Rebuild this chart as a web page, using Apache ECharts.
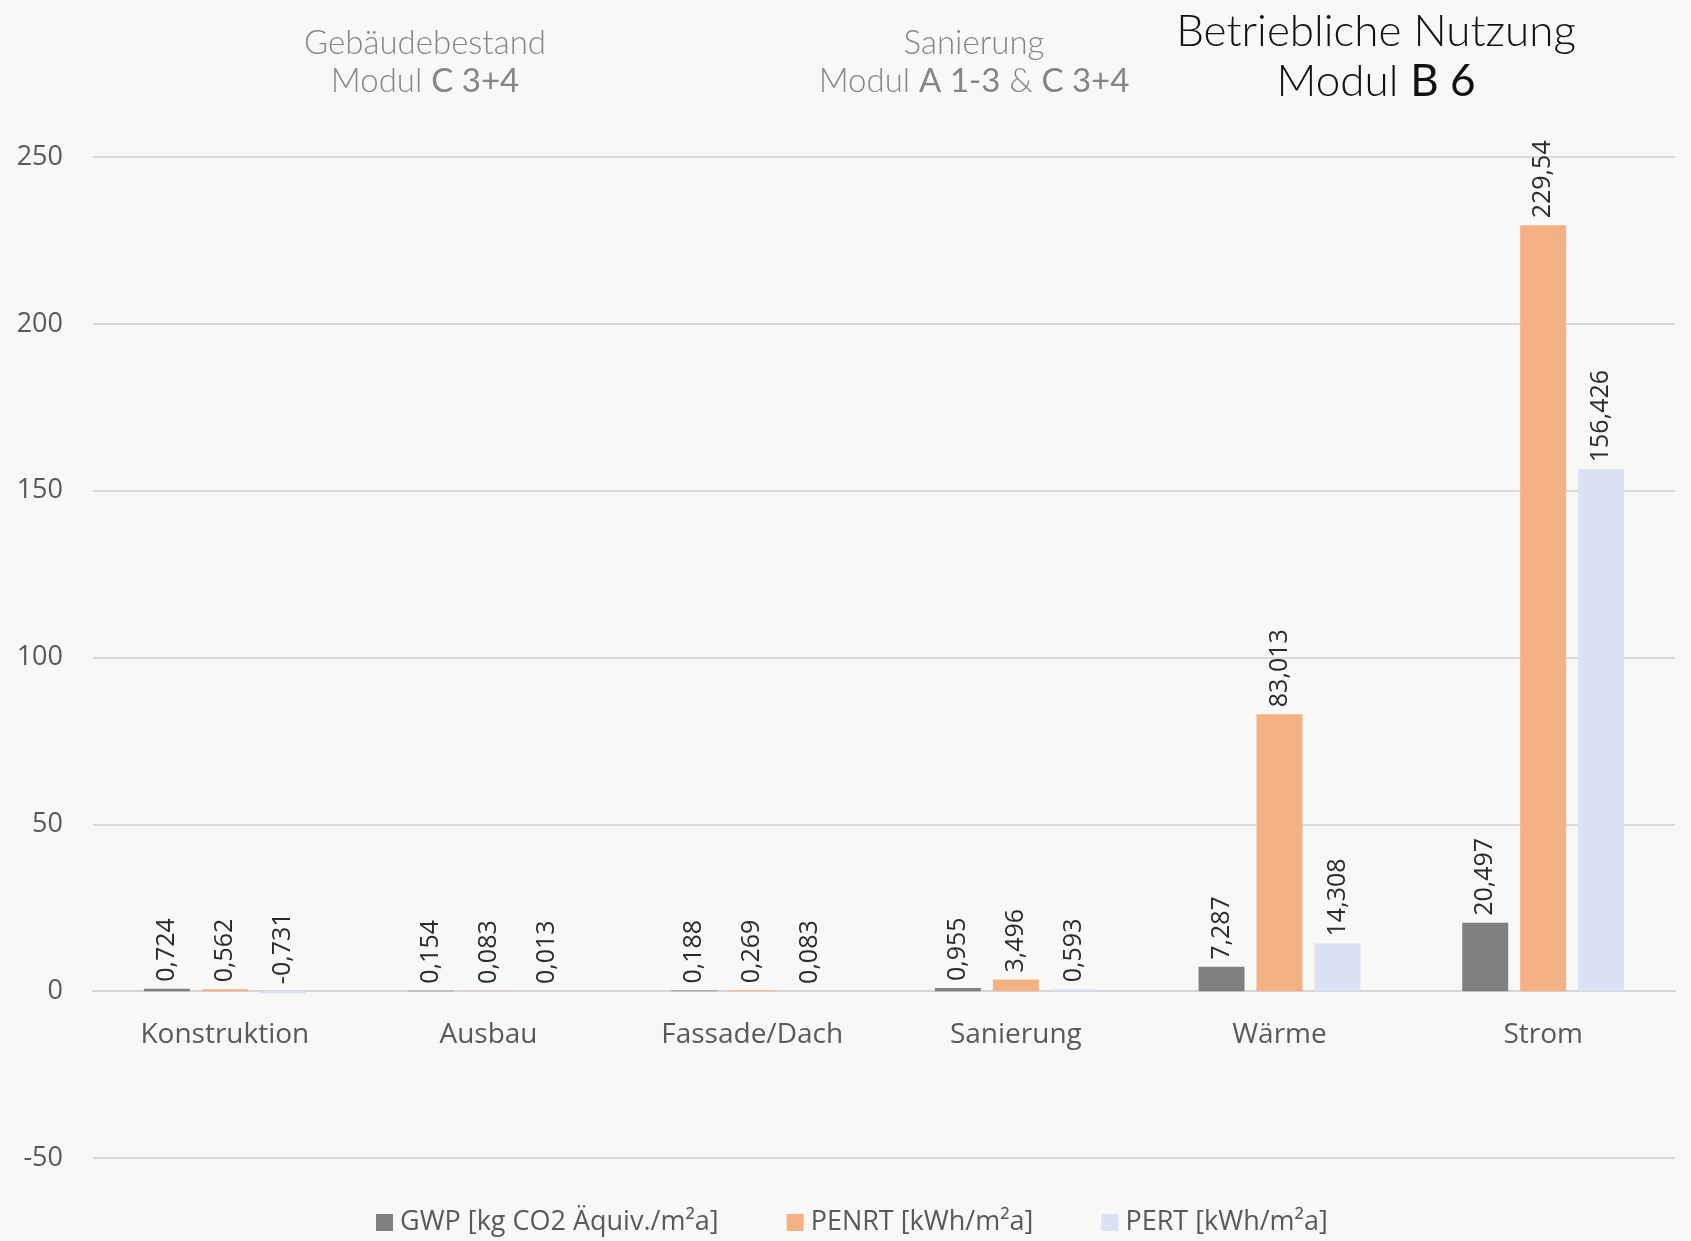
<!DOCTYPE html>
<html>
<head>
<meta charset="utf-8">
<script src="https://cdn.jsdelivr.net/npm/echarts@6/dist/echarts.min.js"></script>
<style>
  html, body { margin: 0; padding: 0; background: #f8f8f6; }
  #chart { width: 1691px; height: 1241px; }
</style>
</head>
<body>
<div id="chart"></div>
<script>
// Categories and series values (per m² and year)
const categories = ['Konstruktion', 'Ausbau', 'Fassade/Dach', 'Sanierung', 'Wärme', 'Strom'];
const seriesNames = ['GWP [kg CO2 Äquiv./m²a]', 'PENRT [kWh/m²a]', 'PERT [kWh/m²a]'];
const gwp   = [0.724, 0.154, 0.188, 0.955, 7.287, 20.497];
const penrt = [0.562, 0.083, 0.269, 3.496, 83.013, 229.54];
const pert  = [-0.731, 0.013, 0.083, 0.593, 14.308, 156.426];
const yTicks = { min: -50, max: 250, interval: 50 };

const colors = ['#808080', '#f4b183', '#dae3f3'];
const labelFont = 'Open Sans, Noto Sans, sans-serif';
const titleFont = 'Lato, Noto Sans, sans-serif';

const gridBox = { left: 93, right: 16, top: 157, bottom: 83 };
const plotHeight = 1241 - gridBox.top - gridBox.bottom;
// Category axis sits on the zero line: shift it up from the bottom edge
const zeroOffset = plotHeight * (0 - yTicks.min) / (yTicks.max - yTicks.min);

const chart = echarts.init(document.getElementById('chart'), null, { renderer: 'canvas' });

function germanNumber(v) {
  return String(v).replace('.', ',');
}

function barSeries(name, data, color) {
  return {
    name: name,
    type: 'bar',
    data: data,
    barWidth: 46,
    barGap: '26%',
    itemStyle: { color: color },
    label: {
      show: true,
      position: 'top',
      rotate: 90,
      align: 'left',
      verticalAlign: 'middle',
      distance: 7,
      fontFamily: labelFont,
      fontSize: 25,
      fontWeight: 400,
      color: '#2a2a2a',
      formatter: p => germanNumber(p.value)
    }
  };
}

// Section headings above the plot
function heading(x, y, text, rich, fontSize, color) {
  return {
    type: 'text',
    x: x,
    y: y,
    style: {
      text: text,
      align: 'center',
      verticalAlign: 'middle',
      fontFamily: titleFont,
      fontSize: fontSize,
      fontWeight: 300,
      fill: color,
      rich: rich
    }
  };
}

const grayRich = {
  l: { fontFamily: titleFont, fontSize: 33, fontWeight: 300, color: '#858585' },
  r: { fontFamily: titleFont, fontSize: 33, fontWeight: 400, color: '#767676' }
};
const blackRich = {
  l: { fontFamily: titleFont, fontSize: 44, fontWeight: 300, color: '#111111' },
  r: { fontFamily: titleFont, fontSize: 44, fontWeight: 400, color: '#000000' }
};

const option = {
  backgroundColor: '#f8f8f6',
  animation: false,
  grid: Object.assign({ containLabel: false }, gridBox),
  legend: {
    data: seriesNames,
    left: 371,
    top: 1204,
    itemWidth: 17,
    itemHeight: 17,
    itemGap: 68,
    icon: 'rect',
    textStyle: {
      fontFamily: labelFont,
      fontSize: 27,
      color: '#595959',
      padding: [0, 0, 0, 2]
    }
  },
  xAxis: {
    type: 'category',
    data: categories,
    position: 'bottom',
    offset: -zeroOffset,
    axisLine: { onZero: false, lineStyle: { color: '#d6d6d6', width: 2 } },
    axisTick: { show: false },
    axisLabel: {
      fontFamily: labelFont,
      fontSize: 28,
      color: '#595959',
      margin: 30
    }
  },
  yAxis: {
    type: 'value',
    min: yTicks.min,
    max: yTicks.max,
    interval: yTicks.interval,
    axisLine: { show: false },
    axisTick: { show: false },
    splitLine: { lineStyle: { color: '#dadada', width: 2 } },
    axisLabel: {
      fontFamily: labelFont,
      fontSize: 27,
      color: '#595959',
      margin: 30
    }
  },
  series: [
    barSeries(seriesNames[0], gwp, colors[0]),
    barSeries(seriesNames[1], penrt, colors[1]),
    barSeries(seriesNames[2], pert, colors[2])
  ],
  graphic: [
    heading(425, 43, '{l|Gebäudebestand}', grayRich, 33, '#858585'),
    heading(425, 81, '{l|Modul} {r|C 3+4}', grayRich, 33, '#858585'),
    heading(974, 43, '{l|Sanierung}', grayRich, 33, '#858585'),
    heading(974, 81, '{l|Modul} {r|A 1-3} {l|&} {r|C 3+4}', grayRich, 33, '#858585'),
    heading(1376, 32, '{l|Betriebliche Nutzung}', blackRich, 44, '#111111'),
    heading(1376, 82, '{l|Modul} {r|B 6}', blackRich, 44, '#111111')
  ]
};

chart.setOption(option);
</script>
</body>
</html>
